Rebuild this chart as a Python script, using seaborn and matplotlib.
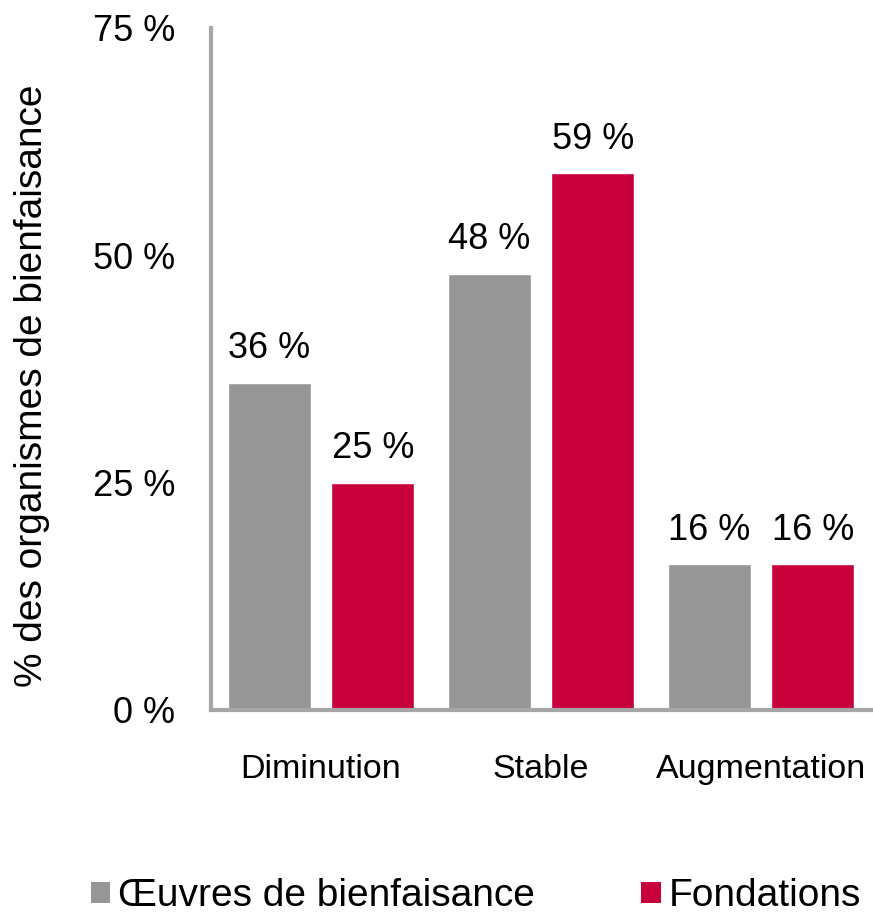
import matplotlib
matplotlib.use("Agg")
import matplotlib.pyplot as plt
import seaborn as sns
import pandas as pd
from matplotlib.patches import Patch

categories = ["Diminution", "Stable", "Augmentation"]
series_names = ["Œuvres de bienfaisance", "Fondations"]
oeuvres = [36, 48, 16]
fondations = [25, 59, 16]
y_ticks = [0, 25, 50, 75]
y_tick_labels = ["0 %", "25 %", "50 %", "75 %"]

colors = ["#969696", "#C8003C"]

sns.set_theme(style="white")
plt.rcParams["font.family"] = ["Liberation Sans", "DejaVu Sans"]
plt.rcParams["text.color"] = "black"
plt.rcParams["axes.labelcolor"] = "black"
plt.rcParams["xtick.color"] = "black"
plt.rcParams["ytick.color"] = "black"

df = pd.DataFrame({
    "cat": categories * 2,
    "series": [series_names[0]] * 3 + [series_names[1]] * 3,
    "val": oeuvres + fondations,
})

fig = plt.figure(figsize=(8.73, 9.18), dpi=100)
ax = fig.add_axes([0.2417, 0.2266, 0.7560, 0.7429])

sns.barplot(data=df, x="cat", y="val", hue="series", order=categories,
            hue_order=series_names, palette=colors, width=0.94, gap=0.2,
            saturation=1, ax=ax, legend=False)

for cont in ax.containers:
    ax.bar_label(cont, labels=[f"{int(round(v))} %" for v in cont.datavalues],
                 padding=12, fontsize=26, color="black")

ax.set_ylim(0, 75)
ax.set_xlim(-0.5, 2.5)
ax.set_yticks(y_ticks)
ax.set_yticklabels(y_tick_labels, fontsize=26)
ax.tick_params(axis="x", labelsize=24.5, pad=32, length=0)
ax.tick_params(axis="y", pad=26, length=0)
ax.set_xlabel("")
ax.set_ylabel("% des organismes de bienfaisance", fontsize=28)
ax.yaxis.set_label_coords(-0.244, 0.475)

for s in ["top", "right"]:
    ax.spines[s].set_visible(False)
for s in ["left", "bottom"]:
    ax.spines[s].set_color("#A6A6A6")
    ax.spines[s].set_linewidth(3)

handles = [Patch(facecolor=c, edgecolor="none") for c in colors]
fig.legend(handles, series_names, loc="lower left", bbox_to_anchor=(0.104, 0.004),
           ncol=2, frameon=False, fontsize=28, handlelength=0.49, handleheight=0.49,
           handletextpad=0.2, columnspacing=2.75, borderpad=0, borderaxespad=0)

fig.savefig("out.png", dpi=100)
